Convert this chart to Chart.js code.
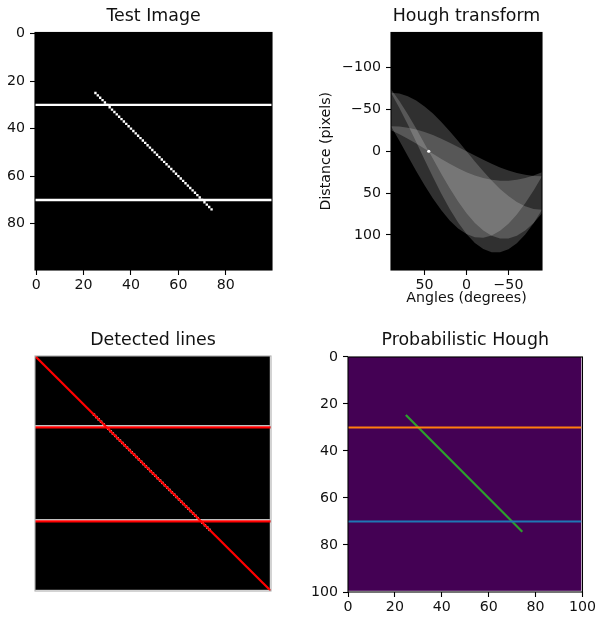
<!DOCTYPE html>
<html>
<head>
<meta charset="utf-8">
<script src="https://cdn.jsdelivr.net/npm/chart.js@4.4.1/dist/chart.umd.min.js"></script>
<style>
  body { margin: 0; background: #fff; width: 598px; height: 620px; position: relative; overflow: hidden; }
  canvas { position: absolute; }
</style>
</head>
<body>
<canvas id="testImage" width="300" height="310" style="left:0;top:0"></canvas>
<canvas id="hough" width="298" height="310" style="left:300px;top:0"></canvas>
<canvas id="detected" width="300" height="310" style="left:0;top:310px"></canvas>
<canvas id="probHough" width="298" height="310" style="left:300px;top:310px"></canvas>
<script>
// test image: two full-width rows plus a diagonal of single pixels (row == col)
const lineRows = [30, 70];
const diagPixels = [25, 26, 27, 28, 29, 30, 31, 32, 33, 34, 35, 36, 37, 38, 39, 40, 41, 42, 43, 44,
  45, 46, 47, 48, 49, 50, 51, 52, 53, 54, 55, 56, 57, 58, 59, 60, 61, 62, 63, 64,
  65, 66, 67, 68, 69, 70, 71, 72, 73, 74];

// hough accumulator bands, edges read at each angle (distance in pixels)
const houghAngles = [90, 80, 70, 60, 50, 40, 30, 20, 10, 0, -10, -20, -30, -40, -50, -60, -70, -80, -90];
const row30Near = [-30, -29.6, -28.2, -26, -23, -19.3, -15, -10.3, -5.2, 0, 5.2, 10.3, 15, 19.3, 23, 26, 28.2, 29.6, 30];
const row30Far = [-30, -12.4, 5.7, 23.5, 40.7, 56.5, 70.7, 82.8, 92.3, 99, 102.7, 103.4, 100.7, 95.1, 86.7, 75.5, 62.1, 46.8, 30];
const row70Near = [-70, -69, -65.8, -60.6, -53.6, -45, -35, -23.9, -12.2, 0, 12.2, 23.9, 35, 45, 53.6, 60.6, 65.8, 69, 70];
const row70Far = [-70, -51.8, -31.9, -11.1, 10.1, 30.8, 50.7, 69.2, 85.3, 99, 109.7, 117, 120.7, 120.8, 117.3, 110.1, 99.7, 86.2, 70];
const diagNear = [-25, -20.3, -15, -9.2, -3.1, 3.1, 9.2, 15, 20.3, 25, 29, 32, 34.2, 35.2, 35.2, 34.2, 32, 29, 25];
const diagFar = [-74, -60, -44.3, -27.1, -9.1, 9.1, 27.1, 44.3, 60, 74, 85.8, 94.9, 101.1, 104.3, 104.3, 101.1, 94.9, 85.8, 74];
const houghPeak = [45, 0];

// detected lines (full length) and probabilistic segments
const detectedRows = [30.4, 70.4];
const detectedDiagX = [0, 100];
const detectedDiagY = [0, 100];
const segRow70 = [[0, 70], [99, 70]];
const segRow30 = [[0, 30], [99, 30]];
const segDiag = [[25, 25], [74, 74]];

// ticks
const testTicks = [0, 20, 40, 60, 80];
const angleTicks = [50, 0, -50];
const distTicks = [-100, -50, 0, 50, 100];
const probTicks = [0, 20, 40, 60, 80, 100];

Chart.defaults.font.family = 'DejaVu Sans';
Chart.defaults.color = '#000';
Chart.defaults.animation = false;
Chart.defaults.events = [];
Chart.defaults.plugins.legend.display = false;
Chart.defaults.plugins.tooltip.enabled = false;

const fmt = v => (v < 0 ? '\u2212' + Math.abs(v) : String(v));

const imageFrame = {
  id: 'imageFrame',
  beforeDraw(chart, args, o) {
    if (!o.fill) return;
    const {ctx, chartArea: a, scales} = chart;
    const l = scales.x.getPixelForValue(o.extent[0]), r = scales.x.getPixelForValue(o.extent[1]);
    const t = scales.y.getPixelForValue(o.extent[2]), b = scales.y.getPixelForValue(o.extent[3]);
    const x0 = Math.max(a.left, Math.min(l, r)), x1 = Math.min(a.right, Math.max(l, r));
    const y0 = Math.max(a.top, Math.min(t, b)), y1 = Math.min(a.bottom, Math.max(t, b));
    ctx.save();
    ctx.fillStyle = o.fill;
    ctx.fillRect(x0, y0, x1 - x0, y1 - y0);
    ctx.restore();
  },
  afterDatasetsDraw(chart, args, o) {
    if (!o.border) return;
    const {ctx, chartArea: a} = chart;
    ctx.save();
    ctx.strokeStyle = o.border;
    ctx.lineWidth = 1.1;
    ctx.strokeRect(a.left, a.top, a.right - a.left, a.bottom - a.top);
    ctx.restore();
  }
};
Chart.register(imageFrame);

function axis(ticks, extra) {
  return Object.assign({
    type: 'linear',
    afterBuildTicks: s => { s.ticks = ticks.map(v => ({value: v})); },
    grid: {display: true, drawOnChartArea: false, drawTicks: true, tickLength: 5, tickWidth: 1.1, tickColor: '#000'},
    border: {display: false},
    ticks: {font: {size: 14.2}, color: '#111', maxRotation: 0, autoSkip: false, padding: 5, callback: v => fmt(v)}
  }, extra);
}

function fixSize(prop, val) {
  return s => { s[prop] = val; };
}

function titleOpts(text, pad) {
  return {display: true, text: text, fullSize: false, color: '#111',
    font: {size: 17.4, weight: 'normal'}, padding: pad};
}

const xTickStyle = {font: {size: 14.2}, color: '#111', maxRotation: 0, autoSkip: false, padding: 2, callback: v => fmt(v)};
const pts = (xs, ys) => xs.map((x, i) => ({x: x, y: ys[i]}));
const seg = s => s.map(p => ({x: p[0], y: p[1]}));
const pixelRadius = c => {
  const s = c.chart.scales.x;
  return Math.abs(s.getPixelForValue(1) - s.getPixelForValue(0)) / Math.SQRT2;
};

function imageDatasets() {
  const sets = lineRows.map(r => ({
    data: [{x: -0.5, y: r}, {x: 99.5, y: r}], showLine: true, pointRadius: 0,
    borderColor: '#fff', borderWidth: 2.4, borderCapStyle: 'butt', order: 10
  }));
  sets.push({
    data: pts(diagPixels, diagPixels), showLine: false, pointStyle: 'rect',
    pointRadius: pixelRadius, pointBackgroundColor: '#fff', pointBorderWidth: 0, order: 10
  });
  return sets;
}

// 1. Test image
new Chart(document.getElementById('testImage'), {
  type: 'scatter',
  data: {datasets: imageDatasets()},
  options: {
    responsive: false,
    layout: {padding: {left: 0, right: 28, top: 0, bottom: 10}},
    scales: {
      x: axis(testTicks, {min: -0.5, max: 99.5, afterFit: fixSize('height', 30), ticks: xTickStyle}),
      y: axis(testTicks, {min: -0.5, max: 99.5, reverse: true, afterFit: fixSize('width', 35)})
    },
    plugins: {
      title: titleOpts('Test Image', {top: 6, bottom: 5.6}),
      imageFrame: {fill: '#000', extent: [-0.5, 99.5, -0.5, 99.5], border: '#000'}
    }
  }
});

// 2. Hough transform
const band = (near, far) => pts(houghAngles, near).concat(pts(houghAngles, far).reverse());
const bandStyle = {showLine: true, pointRadius: 0, borderColor: 'transparent', borderWidth: 0,
  fill: 'shape', backgroundColor: 'rgba(255,255,255,0.19)'};
new Chart(document.getElementById('hough'), {
  type: 'scatter',
  data: {datasets: [
    Object.assign({data: band(row30Near, row30Far)}, bandStyle),
    Object.assign({data: band(row70Near, row70Far)}, bandStyle),
    Object.assign({data: band(diagNear, diagFar)}, bandStyle),
    {data: [{x: houghPeak[0], y: houghPeak[1]}], pointRadius: 1.6, pointBackgroundColor: '#fff', pointBorderWidth: 0}
  ]},
  options: {
    responsive: false,
    layout: {padding: {left: 0, right: 56, top: 0, bottom: 0}},
    scales: {
      x: axis(angleTicks, {min: -90, max: 90, reverse: true, afterFit: fixSize('height', 40), ticks: xTickStyle,
        title: {display: true, text: 'Angles (degrees)', color: '#111', font: {size: 14.2}, padding: {top: 0, bottom: 3.5}}}),
      y: axis(distTicks, {min: -142, max: 142, reverse: true, afterFit: fixSize('width', 91),
        title: {display: true, text: 'Distance (pixels)', color: '#111', font: {size: 14.2}, padding: {top: 17.5, bottom: 0}}})
    },
    plugins: {
      title: titleOpts('Hough transform', {top: 6, bottom: 5.6}),
      imageFrame: {fill: '#000', extent: [90, -90, -142, 142], border: '#000'}
    }
  }
});

// 3. Detected lines
const detSets = imageDatasets().concat(detectedRows.map(r => ({
  data: [{x: 0, y: r}, {x: 100, y: r}], showLine: true, pointRadius: 0,
  borderColor: '#ff0000', borderWidth: 2.2, order: 0
})));
detSets.push({data: pts(detectedDiagX, detectedDiagY), showLine: true, pointRadius: 0,
  borderColor: '#ff0000', borderWidth: 2.2, order: 0});
new Chart(document.getElementById('detected'), {
  type: 'scatter',
  data: {datasets: detSets},
  options: {
    responsive: false,
    layout: {padding: {left: 35, right: 29, top: 14, bottom: 29}},
    scales: {
      x: {type: 'linear', min: 0, max: 100, display: false},
      y: {type: 'linear', min: 0, max: 100, reverse: true, display: false}
    },
    plugins: {
      title: titleOpts('Detected lines', {top: 6, bottom: 5.1}),
      imageFrame: {fill: '#000', extent: [-0.5, 99.5, -0.5, 99.5], border: '#b0b0b0'}
    }
  }
});

// 4. Probabilistic Hough
const segStyle = {showLine: true, pointRadius: 0, borderWidth: 2.2, borderCapStyle: 'square'};
new Chart(document.getElementById('probHough'), {
  type: 'scatter',
  data: {datasets: [
    Object.assign({data: seg(segRow70), borderColor: '#1f77b4'}, segStyle),
    Object.assign({data: seg(segRow30), borderColor: '#ff7f0e'}, segStyle),
    Object.assign({data: seg(segDiag), borderColor: '#2ca02c'}, segStyle)
  ]},
  options: {
    responsive: false,
    layout: {padding: {left: 0, right: 14, top: 14, bottom: 0}},
    scales: {
      x: axis(probTicks, {min: 0, max: 100, afterFit: fixSize('height', 28), ticks: xTickStyle}),
      y: axis(probTicks, {min: 0, max: 100, reverse: true, afterFit: fixSize('width', 48)})
    },
    plugins: {
      title: titleOpts('Probabilistic Hough', {top: 6, bottom: 6.1}),
      imageFrame: {fill: '#440154', extent: [-0.5, 99.5, -0.5, 99.5], border: '#000'}
    }
  }
});
</script>
</body>
</html>
